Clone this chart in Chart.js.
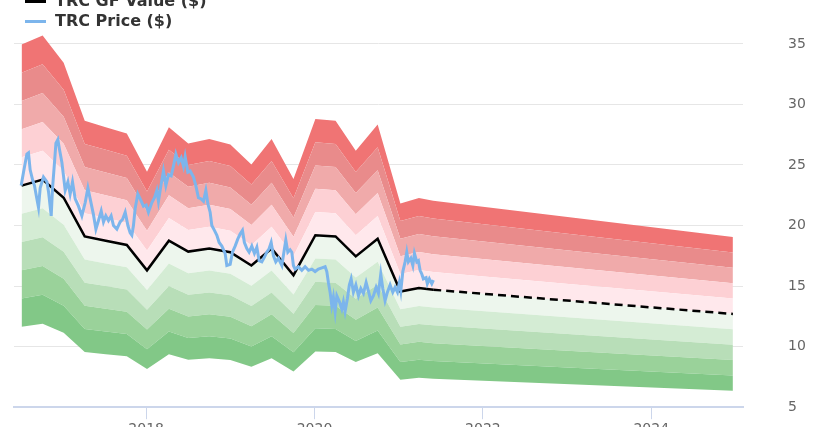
<!DOCTYPE html>
<html>
<head>
<meta charset="utf-8">
<title>TRC GF Value</title>
<script src="https://cdn.jsdelivr.net/npm/chart.js@4.4.1/dist/chart.umd.min.js"></script>
<style>
    html, body { margin: 0; padding: 0; background: #fff; }
    #wrap { position: relative; width: 820px; height: 427px; overflow: hidden; }
    #chart-box { position: absolute; left: 0; top: 0; width: 820px; height: 450px; }
    .lg-row {
        position: absolute; left: 25px; height: 20px;
        font: bold 16px "DejaVu Sans", sans-serif; color: #333;
        white-space: nowrap; line-height: 20px;
    }
    .lg-sym { position: absolute; left: 0; top: 9px; width: 21px; height: 3px; }
    .lg-txt { position: absolute; left: 30px; top: 0; }
</style>
</head>
<body>
<div id="wrap">
    <div id="chart-box"><canvas id="gf-chart" width="820" height="450"></canvas></div>
    <div class="lg-row" style="top:-9px"><span class="lg-sym" style="background:#000"></span><span class="lg-txt">TRC GF Value ($)</span></div>
    <div class="lg-row" style="top:11px"><span class="lg-sym" style="background:#7cb5ec"></span><span class="lg-txt">TRC Price ($)</span></div>
</div>
<script>
/* global Chart */

// =========================================================
// Data (x values are decimal years)
// =========================================================
var gfDates  = [2016.52, 2016.77, 2017.02, 2017.27, 2017.52, 2017.77, 2018.01, 2018.27,
                2018.50, 2018.75, 2019.00, 2019.25, 2019.49, 2019.75, 2020.01, 2020.25,
                2020.49, 2020.75, 2021.02, 2021.24, 2021.41];
var gfValues = [23.3, 23.8, 22.3, 19.1, 18.75, 18.4, 16.3, 18.75,
                17.85, 18.1, 17.8, 16.7, 18.1, 15.9, 19.2, 19.1,
                17.45, 18.9, 14.55, 14.85, 14.7];

// projected GF value (dashed)
var projDates  = [2021.41, 2024.97];
var projValues = [14.7, 12.7];

// band multipliers, bottom to top
var bandLevels = [0.5, 0.6, 0.7, 0.8, 0.9, 1.0, 1.1, 1.2, 1.3, 1.4, 1.5];
var bandColors = ['#82c887', '#9ad29a', '#b8deb8', '#d4ecd4', '#edf6ed',
                  '#ffe8ec', '#fdd0d4', '#f0aaaa', '#e98b8b', '#f07474'];

var priceDates = [
    2016.515, 2016.543, 2016.583, 2016.602, 2016.622, 2016.650, 2016.673, 2016.702, 2016.721, 2016.741,
    2016.780, 2016.821, 2016.840, 2016.872, 2016.887, 2016.911, 2016.928, 2016.951, 2016.970, 2016.999,
    2017.018, 2017.038, 2017.070, 2017.097, 2017.125, 2017.157, 2017.196, 2017.236, 2017.276, 2017.308,
    2017.335, 2017.374, 2017.403, 2017.433, 2017.466, 2017.493, 2017.521, 2017.552, 2017.584, 2017.612,
    2017.652, 2017.691, 2017.719, 2017.751, 2017.783, 2017.810, 2017.830, 2017.849, 2017.869, 2017.901,
    2017.929, 2017.968, 2018.000, 2018.027, 2018.068, 2018.099, 2018.127, 2018.146, 2018.178, 2018.205,
    2018.234, 2018.265, 2018.297, 2018.324, 2018.353, 2018.384, 2018.416, 2018.443, 2018.463, 2018.495,
    2018.523, 2018.562, 2018.590, 2018.621, 2018.653, 2018.681, 2018.709, 2018.733, 2018.760, 2018.780,
    2018.811, 2018.840, 2018.867, 2018.899, 2018.938, 2018.958, 2018.998, 2019.025, 2019.057, 2019.089,
    2019.116, 2019.144, 2019.167, 2019.196, 2019.223, 2019.255, 2019.286, 2019.315, 2019.342, 2019.374,
    2019.405, 2019.433, 2019.461, 2019.485, 2019.512, 2019.540, 2019.571, 2019.612, 2019.643, 2019.659,
    2019.683, 2019.710, 2019.730, 2019.749, 2019.770, 2019.809, 2019.849, 2019.888, 2019.928, 2019.968,
    2020.007, 2020.046, 2020.087, 2020.126, 2020.146, 2020.165, 2020.185, 2020.205, 2020.224, 2020.245,
    2020.265, 2020.296, 2020.324, 2020.343, 2020.363, 2020.391, 2020.414, 2020.435, 2020.462, 2020.491,
    2020.522, 2020.550, 2020.581, 2020.613, 2020.640, 2020.669, 2020.700, 2020.732, 2020.759, 2020.787,
    2020.811, 2020.838, 2020.866, 2020.898, 2020.930, 2020.957, 2020.985, 2021.008, 2021.025, 2021.049,
    2021.076, 2021.096, 2021.115, 2021.144, 2021.168, 2021.187, 2021.215, 2021.234, 2021.254, 2021.274,
    2021.293, 2021.325, 2021.340, 2021.364, 2021.393, 2021.412
];
var priceValues = [
    23.3, 24.4, 25.9, 26.0, 24.6, 23.8, 23.3, 22.2, 21.5, 23.1,
    24.0, 23.6, 22.8, 20.8, 23.0, 25.2, 26.8, 27.1, 26.3, 25.2,
    24.1, 22.9, 23.6, 22.6, 23.6, 22.2, 21.6, 20.8, 21.9, 23.1,
    22.2, 20.9, 19.7, 20.4, 21.2, 20.3, 20.8, 20.4, 20.8, 20.0,
    19.7, 20.3, 20.5, 21.1, 20.0, 19.4, 19.2, 20.0, 21.4, 22.6,
    22.2, 21.6, 21.7, 21.1, 21.9, 22.3, 22.9, 22.0, 23.4, 24.5,
    23.3, 24.2, 24.1, 24.9, 25.9, 25.2, 25.6, 24.9, 25.7, 24.4,
    24.5, 24.0, 23.3, 22.3, 22.2, 22.0, 22.9, 21.8, 21.1, 20.0,
    19.6, 19.2, 18.6, 18.3, 17.7, 16.7, 16.8, 17.8, 18.3, 18.9,
    19.3, 19.6, 18.6, 18.1, 17.8, 18.3, 17.7, 18.2, 17.1, 17.0,
    17.4, 17.8, 18.1, 18.6, 17.5, 17.0, 17.3, 16.7, 18.1, 18.8,
    17.8, 18.0, 17.8, 16.7, 16.4, 16.6, 16.3, 16.6, 16.3, 16.4,
    16.2, 16.4, 16.5, 16.6, 16.2, 15.3, 14.5, 13.4, 14.1, 12.9,
    14.2, 13.7, 13.1, 13.7, 12.9, 14.0, 15.1, 15.6, 14.5, 15.1,
    14.2, 14.8, 14.4, 15.3, 14.6, 13.8, 14.2, 14.9, 14.4, 16.0,
    14.8, 13.8, 14.5, 15.1, 14.5, 14.9, 14.5, 15.3, 14.6, 16.2,
    17.0, 17.8, 17.0, 17.3, 16.7, 17.7, 17.0, 17.1, 16.3, 16.0,
    15.6, 15.7, 15.2, 15.6, 15.2, 15.5
];

var yTicks = [5, 10, 15, 20, 25, 30, 35];
var xTicks = [2018, 2020, 2022, 2024];

(function () {
    'use strict';

    function toPoints(xs, ys, k) {
        var pts = [];
        for (var i = 0; i < xs.length; i++) {
            pts.push({ x: xs[i], y: ys[i] * (k || 1) });
        }
        return pts;
    }

    function buildDatasets() {
        // bands run over history + projection
        var allDates  = gfDates.concat(projDates.slice(1));
        var allValues = gfValues.concat(projValues.slice(1));
        var sets = [];

        sets.push({
            label: 'TRC Price ($)',
            data: toPoints(priceDates, priceValues),
            borderColor: '#7cb5ec',
            borderWidth: 3,
            pointRadius: 0,
            tension: 0,
            fill: false,
            order: 0,
        });
        sets.push({
            label: 'TRC GF Value ($)',
            data: toPoints(gfDates, gfValues),
            borderColor: '#000',
            borderWidth: 2.5,
            pointRadius: 0,
            tension: 0,
            fill: false,
            order: 1,
        });
        sets.push({
            label: 'projection',
            data: toPoints(projDates, projValues),
            borderColor: '#000',
            borderWidth: 2.5,
            borderDash: [8, 5],
            pointRadius: 0,
            fill: false,
            order: 1,
        });

        // band boundaries: each one fills down to the previous boundary
        for (var b = 0; b < bandLevels.length; b++) {
            sets.push({
                label: 'band ' + bandLevels[b],
                data: toPoints(allDates, allValues, bandLevels[b]),
                borderWidth: 0,
                borderColor: 'rgba(0,0,0,0)',
                pointRadius: 0,
                tension: 0,
                backgroundColor: b > 0 ? bandColors[b - 1] : 'rgba(0,0,0,0)',
                fill: b > 0 ? '-1' : false,
                order: 2,
            });
        }
        return sets;
    }

    function initChart() {
        var ctx = document.getElementById('gf-chart');
        if (!ctx) return;

        new Chart(ctx, {
            type: 'line',
            data: { datasets: buildDatasets() },
            options: {
                responsive: false,
                animation: false,
                devicePixelRatio: 1,
                layout: { padding: { left: 14, top: 19.67, right: 0, bottom: 10 } },
                plugins: {
                    legend: { display: false },
                    tooltip: { enabled: false },
                },
                scales: {
                    x: {
                        type: 'linear',
                        min: 2016.43,
                        max: 2025.09,
                        afterBuildTicks: function (scale) {
                            scale.ticks = xTicks.map(function (v) { return { value: v }; });
                        },
                        ticks: {
                            color: '#666',
                            padding: 2,
                            maxRotation: 0,
                            font: { family: 'DejaVu Sans', size: 14 },
                            callback: function (v) { return String(v); },
                        },
                        grid: {
                            drawOnChartArea: false,
                            drawTicks: true,
                            tickLength: 12,
                            color: '#ccd6eb',
                        },
                        border: { color: '#ccd6eb', width: 2 },
                    },
                    y: {
                        position: 'right',
                        min: 5,
                        max: 37,
                        afterBuildTicks: function (scale) {
                            scale.ticks = yTicks.map(function (v) { return { value: v }; });
                        },
                        afterFit: function (scale) { scale.width = 77; },
                        ticks: {
                            color: '#666',
                            padding: 0,
                            font: { family: 'DejaVu Sans', size: 14 },
                        },
                        // invisible tick marks push the labels out to the right
                        grid: {
                            color: '#e6e6e6',
                            drawTicks: true,
                            tickLength: 45,
                            tickColor: 'rgba(0,0,0,0)',
                        },
                        border: { display: false },
                    },
                },
            },
        });
    }

    initChart();
}());
</script>
</body>
</html>
